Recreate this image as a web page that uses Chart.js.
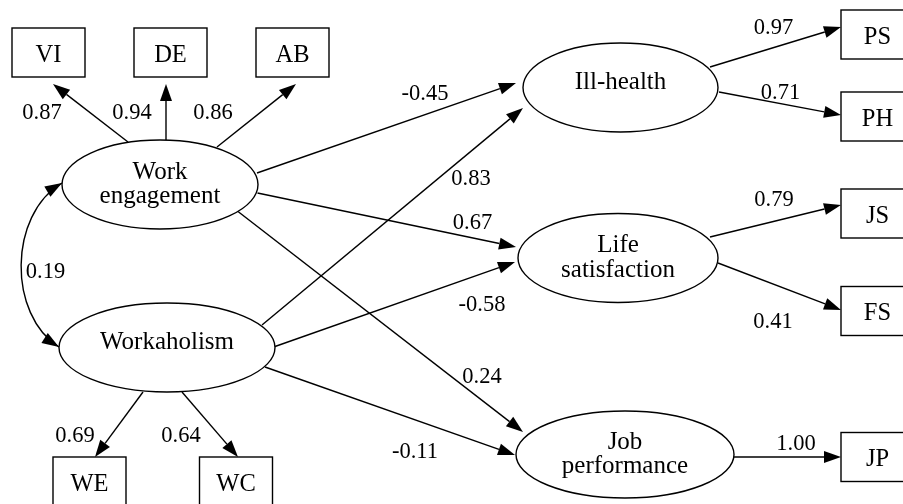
<!DOCTYPE html>
<html>
<head>
<meta charset="utf-8">
<script src="https://cdn.jsdelivr.net/npm/chart.js@4.4.1/dist/chart.umd.min.js"></script>
<style>
  html, body { margin: 0; padding: 0; background: #fff; }
  #wrap { width: 903px; height: 504px; }
</style>
</head>
<body>
<div id="wrap"><canvas id="chart" width="903" height="504"></canvas></div>
<script>
// ====== Data ======
const latentNames    = ['Work engagement', 'Workaholism', 'Ill-health', 'Life satisfaction', 'Job performance'];
const indicatorNames = ['VI', 'DE', 'AB', 'WE', 'WC', 'PS', 'PH', 'JS', 'FS', 'JP'];

// directed paths (loadings + structural)
const pathFrom = ['Work engagement', 'Work engagement', 'Work engagement',
                  'Work engagement', 'Work engagement', 'Work engagement',
                  'Workaholism', 'Workaholism', 'Workaholism', 'Workaholism', 'Workaholism',
                  'Ill-health', 'Ill-health', 'Life satisfaction', 'Life satisfaction', 'Job performance'];
const pathTo   = ['VI', 'DE', 'AB',
                  'Ill-health', 'Life satisfaction', 'Job performance',
                  'Ill-health', 'Life satisfaction', 'Job performance', 'WE', 'WC',
                  'PS', 'PH', 'JS', 'FS', 'JP'];
const pathCoef = ['0.87', '0.94', '0.86',
                  '-0.45', '0.67', '0.24',
                  '0.83', '-0.58', '-0.11', '0.69', '0.64',
                  '0.97', '0.71', '0.79', '0.41', '1.00'];

// covariance
const covFrom = 'Work engagement';
const covTo   = 'Workaholism';
const covCoef = '0.19';

// ====== Layout (diagram coordinates) ======
const nodePos = {
  'Work engagement':   [160, 184.5], 'Workaholism':      [167, 347.5],
  'Ill-health':        [620.5, 87.5], 'Life satisfaction': [618, 258],
  'Job performance':   [625, 454.5],
  VI: [48.5, 52.5], DE: [170.5, 52.5], AB: [292.5, 52.5],
  WE: [89.5, 481.5], WC: [236, 481.5],
  PS: [877.5, 34.5], PH: [877.5, 116.5], JS: [877.5, 213.5], FS: [877.5, 311], JP: [877.5, 457]
};
const ellipseR = {
  'Work engagement': [98, 44.5], 'Workaholism': [108, 44.5], 'Ill-health': [97.5, 44.5],
  'Life satisfaction': [100, 44.5], 'Job performance': [109, 43.5]
};
const boxSize = [73, 49];
// tail / head offsets from node centres, one per path
const tailOff = [[-32, -42.5], [6, -44.5], [57, -37.5],
                 [97, -11.5], [97.5, 8.5], [78, 27],
                 [95, -22.5], [108, -1], [98, 19.5], [-24, 44.5], [15, 44.5],
                 [89.5, -20.5], [98.5, 4.5], [92, -21], [100, 5], [109, 2.5]];
const headOff = [[4.5, 31.5], [-4.5, 31.5], [3.5, 31.5],
                 [-104.5, -4.5], [-102, -11], [-102, -22.5],
                 [-97.5, 20.5], [-103, 4], [-110, 0.5], [5.5, -24.5], [2, -24.5],
                 [-36.5, -7.5], [-36.5, -1.5], [-36.5, -8.5], [-36.5, -1], [-36.5, 0]];
const labelAt  = [[42, 111], [132, 111], [213, 111],
                  [425, 92.5], [472.5, 221], [482, 375.5],
                  [471, 177.5], [482, 303], [415, 450.5], [75, 434], [181, 434],
                  [773.5, 26], [780.5, 91], [774, 198], [773, 320.5], [796, 442.5]];
const covTailOff = [-98, -1.5], covHeadOff = [-108, -0.5];
const covBend = [[-54, 32], [-51, -32]];
const covLabelAt = [45.5, 270];

const SERIF = '"Liberation Serif", "Times New Roman", serif';
const ARROW_LEN = 17, ARROW_HALF = 6;

// ====== Drawing plugin ======
const pathDiagram = {
  id: 'pathDiagram',
  afterDatasetsDraw(chart) {
    const { ctx, scales: { x, y } } = chart;
    const P = (px, py) => [x.getPixelForValue(px), y.getPixelForValue(py)];
    const sx = (d) => x.getPixelForValue(d) - x.getPixelForValue(0);
    const sy = (d) => Math.abs(y.getPixelForValue(d) - y.getPixelForValue(0));
    const at = (name, off) => P(nodePos[name][0] + off[0], nodePos[name][1] + off[1]);

    ctx.save();
    ctx.strokeStyle = '#000';
    ctx.fillStyle = '#000';
    ctx.lineWidth = 1.4;

    function arrowHead(tip, from) {
      const ang = Math.atan2(tip[1] - from[1], tip[0] - from[0]);
      const bx = tip[0] - ARROW_LEN * Math.cos(ang), by = tip[1] - ARROW_LEN * Math.sin(ang);
      const nx = -Math.sin(ang) * ARROW_HALF, ny = Math.cos(ang) * ARROW_HALF;
      ctx.beginPath();
      ctx.moveTo(tip[0], tip[1]);
      ctx.lineTo(bx + nx, by + ny);
      ctx.lineTo(bx - nx, by - ny);
      ctx.closePath();
      ctx.fill();
      return [bx, by];
    }

    // nodes
    latentNames.forEach(n => {
      const [cx, cy] = P(...nodePos[n]);
      ctx.beginPath();
      ctx.ellipse(cx, cy, sx(ellipseR[n][0]), sy(ellipseR[n][1]), 0, 0, Math.PI * 2);
      ctx.stroke();
      ctx.font = '25px ' + SERIF;
      ctx.textAlign = 'center';
      ctx.textBaseline = 'alphabetic';
      const words = n.split(' ');
      if (words.length === 1) {
        ctx.fillText(n, cx, cy + 1);
      } else {
        ctx.fillText(words[0][0].toUpperCase() + words[0].slice(1), cx, cy - 6);
        ctx.fillText(words.slice(1).join(' '), cx, cy + 18.5);
      }
    });
    indicatorNames.forEach(n => {
      const [cx, cy] = P(...nodePos[n]);
      const w = sx(boxSize[0]), h = sy(boxSize[1]);
      ctx.strokeRect(cx - w / 2, cy - h / 2, w, h);
      ctx.font = '24.5px ' + SERIF;
      ctx.textAlign = 'center';
      ctx.textBaseline = 'alphabetic';
      ctx.fillText(n, cx, cy + 9);
    });

    // directed paths
    pathFrom.forEach((from, i) => {
      const t = at(from, tailOff[i]);
      const h = at(pathTo[i], headOff[i]);
      const base = arrowHead(h, t);
      ctx.beginPath();
      ctx.moveTo(t[0], t[1]);
      ctx.lineTo(base[0], base[1]);
      ctx.stroke();
      const [lx, ly] = P(...labelAt[i]);
      ctx.font = '22.5px ' + SERIF;
      ctx.textAlign = 'center';
      ctx.fillText(pathCoef[i], lx, ly + 7.5);
    });

    // covariance (double-headed curve)
    const a = at(covFrom, covTailOff), b = at(covTo, covHeadOff);
    const c1 = [a[0] + sx(covBend[0][0]), a[1] + sx(covBend[0][1])];
    const c2 = [b[0] + sx(covBend[1][0]), b[1] + sx(covBend[1][1])];
    ctx.beginPath();
    ctx.moveTo(a[0], a[1]);
    ctx.bezierCurveTo(c1[0], c1[1], c2[0], c2[1], b[0], b[1]);
    ctx.stroke();
    arrowHead(a, c1);
    arrowHead(b, c2);
    const [clx, cly] = P(...covLabelAt);
    ctx.font = '22.5px ' + SERIF;
    ctx.fillText(covCoef, clx, cly + 7.5);

    ctx.restore();
  }
};

// ====== Chart ======
const allNodes = latentNames.concat(indicatorNames);
new Chart(document.getElementById('chart').getContext('2d'), {
  type: 'scatter',
  data: {
    datasets: [{
      label: 'nodes',
      data: allNodes.map(n => ({ x: nodePos[n][0], y: nodePos[n][1] })),
      pointRadius: 0,
      pointHoverRadius: 0
    }]
  },
  options: {
    responsive: false,
    devicePixelRatio: 1,
    animation: false,
    layout: { padding: 0 },
    plugins: { legend: { display: false }, tooltip: { enabled: false } },
    scales: {
      x: { type: 'linear', min: 0, max: 903, display: false },
      y: { type: 'linear', min: 0, max: 504, reverse: true, display: false }
    }
  },
  plugins: [pathDiagram]
});
</script>
</body>
</html>
